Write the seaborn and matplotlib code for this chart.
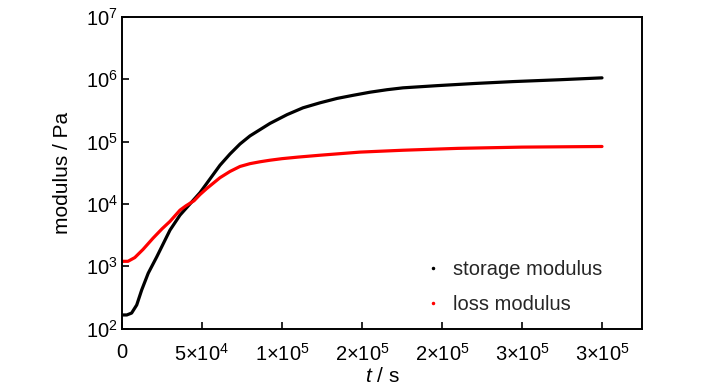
import numpy as np
import pandas as pd
import matplotlib
matplotlib.use("Agg")
import matplotlib.pyplot as plt
from matplotlib.lines import Line2D
from matplotlib.ticker import FixedLocator, FixedFormatter, NullLocator
import seaborn as sns

# ---- data ----
storage_t = [0, 3000, 6000, 9200, 12300, 16400, 21700, 26900, 30000, 36250,
             42500, 48750, 55000, 61250, 67500, 73750, 80000, 86250, 92500,
             103125, 113125, 123750, 134375, 144375, 155000, 165625, 175625,
             196875, 220625, 244375, 273750, 300000]
storage_G = [166, 166, 178, 240, 417, 776, 1413, 2630, 3802, 6607,
             10000, 15136, 25119, 41687, 63096, 91201, 123027, 154882, 194984,
             269153, 346737, 416869, 489779, 549541, 616595, 676083, 724436,
             785236, 851138, 912011, 977237, 1047129]

loss_t = [0, 3750, 8000, 13125, 19375, 25000, 30000, 36250, 40000, 45000,
          48750, 53125, 61250, 67500, 73750, 80000, 86250, 92500, 100000,
          110000, 123750, 148750, 175625, 210000, 250000, 300000]
loss_G = [1202, 1202, 1380, 1862, 2818, 3981, 5248, 7943, 9333, 11220,
          14125, 17783, 26303, 33113, 39811, 44157, 47315, 50119, 53088,
          56234, 60256, 67608, 72444, 77625, 81283, 83176]

series_names = ["storage modulus", "loss modulus"]
series_colors = ["black", "red"]

x_ticks = [0, 50000, 100000, 150000, 200000, 250000, 300000]
x_tick_labels = ["0", "5×10^{4}", "1×10^{5}", "2×10^{5}", "2×10^{5}", "3×10^{5}", "3×10^{5}"]
y_ticks = [1e2, 1e3, 1e4, 1e5, 1e6, 1e7]
x_label = "t"
x_label_unit = " / s"
y_label = "modulus / Pa"

# ---- figure ----
sns.set_theme(style="white")
plt.rcParams["font.family"] = ["Liberation Sans", "DejaVu Sans"]
plt.rcParams["mathtext.fontset"] = "custom"
plt.rcParams["mathtext.rm"] = "Liberation Sans"
plt.rcParams["mathtext.it"] = "Liberation Sans:italic"
plt.rcParams["mathtext.default"] = "regular"

df = pd.concat([
    pd.DataFrame({"t": storage_t, "G": storage_G, "series": series_names[0]}),
    pd.DataFrame({"t": loss_t, "G": loss_G, "series": series_names[1]}),
], ignore_index=True)

fig = plt.figure(figsize=(7.28, 3.90), dpi=100)
ax = fig.add_axes([122 / 728, 1 - 328.7 / 390, 520 / 728, 312 / 390])

palette = dict(zip(series_names, series_colors))
sns.lineplot(data=df, x="t", y="G", hue="series", palette=palette,
             linewidth=2.3, legend=False, ax=ax, estimator=None, sort=False)
for ln in ax.lines:
    ln.set_solid_joinstyle("round")
    ln.set_solid_capstyle("round")

ax.set_yscale("log")
ax.set_xlim(0, 325000)
ax.set_ylim(1e2, 1e7)

ax.xaxis.set_major_locator(FixedLocator(x_ticks))
ax.xaxis.set_major_formatter(FixedFormatter(["$" + s + "$" for s in x_tick_labels]))
ax.yaxis.set_major_locator(FixedLocator(y_ticks))
ax.yaxis.set_minor_locator(NullLocator())
ax.xaxis.set_minor_locator(NullLocator())

ax.tick_params(axis="both", which="major", direction="in", length=5, width=1.2,
               color="black", labelsize=14.5, labelcolor="black",
               bottom=True, left=True, top=False, right=False)
ax.tick_params(axis="x", pad=10)
ax.tick_params(axis="y", pad=3)

for sp in ax.spines.values():
    sp.set_visible(True)
    sp.set_color("black")
    sp.set_linewidth(1.4)

ax.set_xlabel("$\\it{" + x_label + "}$" + x_label_unit, fontsize=15, color="black", labelpad=2)
ax.set_ylabel(y_label, fontsize=15, color="black", labelpad=10)

handles = [Line2D([], [], marker=".", linestyle="", color=c, markersize=3)
           for c in series_colors]
ax.legend(handles, series_names, loc="center left",
          bbox_to_anchor=((413 - 122) / 520, 1 - (287 - 16.7) / 312),
          frameon=False, fontsize=14.5, handlelength=0.6, handletextpad=0.7,
          labelspacing=0.75, borderpad=0.2)

fig.savefig("out.png", dpi=100, facecolor="white")
